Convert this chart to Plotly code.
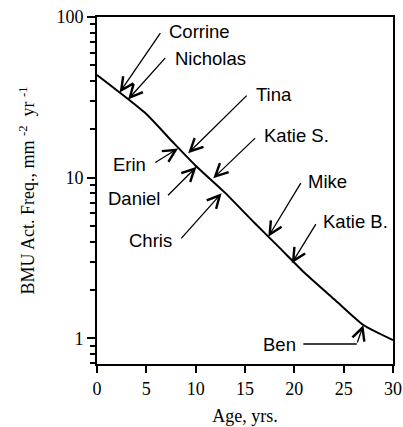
import plotly.graph_objects as go
import math

# Curve: BMU activation frequency vs age
curve_age = [0, 4.84, 7.58, 9.92, 12.96, 16.0, 18.54, 21.08, 24.13, 27.0, 30]
curve_freq = [43.6, 25.4, 16.9, 12.0, 8.07, 5.20, 3.64, 2.54, 1.73, 1.21, 0.975]

# Individuals marked on the curve
names = ["Corrine", "Nicholas", "Erin", "Tina", "Daniel", "Katie S.", "Chris", "Mike", "Katie B.", "Ben"]
ages = [2.30, 3.15, 8.22, 9.24, 10.09, 11.78, 12.63, 17.36, 19.74, 27.0]
freqs = [33.9, 30.7, 15.2, 14.2, 11.7, 9.91, 8.0, 4.29, 2.93, 1.21]

x_ticks = [0, 5, 10, 15, 20, 25, 30]
y_ticks = [1, 10, 100]
y_minor = [0.7, 0.8, 0.9, 2, 3, 4, 5, 6, 7, 8, 9, 20, 30, 40, 50, 60, 70, 80, 90]

# label placement (pixels): arrow tail offset (ax, ay), text shift, anchor
arrow_off = {
    "Corrine": (41.7, -60.8), "Nicholas": (38.4, -42.8), "Tina": (60, -59),
    "Katie S.": (43.4, -41.6), "Mike": (33.4, -55), "Katie B.": (25, -40.6),
    "Erin": (-24.3, 15), "Daniel": (-30, 30), "Chris": (-41.7, 46.7), "Ben": (-6.6, 19),
}
text_off = {
    "Corrine": (47, 60.5, "left"), "Nicholas": (44.7, 41.2, "left"), "Tina": (65.7, 58.3, "left"),
    "Katie S.": (49, 42.3, "left"), "Mike": (37.4, 55, "left"), "Katie B.": (29, 41.6, "left"),
    "Erin": (-30.6, -15.7, "right"), "Daniel": (-34.7, -32.3, "right"),
    "Chris": (-47.4, -47.4, "right"), "Ben": (-65.6, -19, "right"),
}

fig = go.Figure()
fig.add_trace(go.Scatter(x=curve_age, y=curve_freq, mode="lines",
                         line=dict(color="black", width=2, shape="spline", smoothing=0.6),
                         showlegend=False, hoverinfo="skip"))

ann = []
for n, a, f in zip(names, ages, freqs):
    ax, ay = arrow_off[n]
    ann.append(dict(x=a, y=math.log10(f), xref="x", yref="y", text="", showarrow=True,
                    ax=ax, ay=ay, axref="pixel", ayref="pixel", arrowhead=5, arrowsize=1.9,
                    arrowwidth=1.3, arrowcolor="black", standoff=0, font=dict(size=1)))
    dx, dy, anc = text_off[n]
    ann.append(dict(x=a, y=math.log10(f), xref="x", yref="y", text=n, showarrow=False,
                    xshift=dx, yshift=dy, xanchor=anc, yanchor="middle",
                    font=dict(family="Liberation Sans, Arial", size=18.5, color="black")))
    if n == "Ben":
        ann.append(dict(x=a, y=math.log10(f), xref="x", yref="y", text="", showarrow=True,
                        ax=-55, ay=0, axref="pixel", ayref="pixel", arrowhead=0,
                        arrowwidth=1.3, arrowcolor="black", standoff=0,
                        xshift=-6.6, yshift=-19, font=dict(size=1)))

serif = "Liberation Serif, Times New Roman, serif"
fig.update_layout(
    width=403, height=427,
    margin=dict(l=97.3, r=10.3, t=17, b=63, pad=0),
    plot_bgcolor="white", paper_bgcolor="white",
    annotations=ann,
    xaxis=dict(range=[0, 30], tickvals=x_ticks, ticks="outside", ticklen=7, tickwidth=2,
               tickcolor="black", showline=True, linewidth=2, linecolor="black", mirror=True,
               showgrid=False, zeroline=False, automargin=False,
               tickfont=dict(family=serif, size=18, color="black"),
               title=dict(text="Age, yrs.", font=dict(family=serif, size=18, color="black"), standoff=12)),
    yaxis=dict(type="log", range=[-0.16, 2.0], tickvals=y_ticks, ticktext=["1", "10", "100"],
               ticks="outside", ticklen=8, tickwidth=2, tickcolor="black",
               minor=dict(tickvals=y_minor, ticks="outside", ticklen=5, tickwidth=1.5, tickcolor="black", showgrid=False),
               showline=True, linewidth=2, linecolor="black", mirror=True,
               showgrid=False, zeroline=False, automargin=False,
               tickfont=dict(family=serif, size=18, color="black"),
               title=dict(text="BMU Act. Freq., mm <sup>-2</sup>  yr <sup>-1</sup>",
                          font=dict(family=serif, size=18, color="black"), standoff=17)),
)

fig.write_html("out.html", config={"displayModeBar": False},
               post_script="document.body.style.margin='0';document.body.style.overflow='hidden';")
